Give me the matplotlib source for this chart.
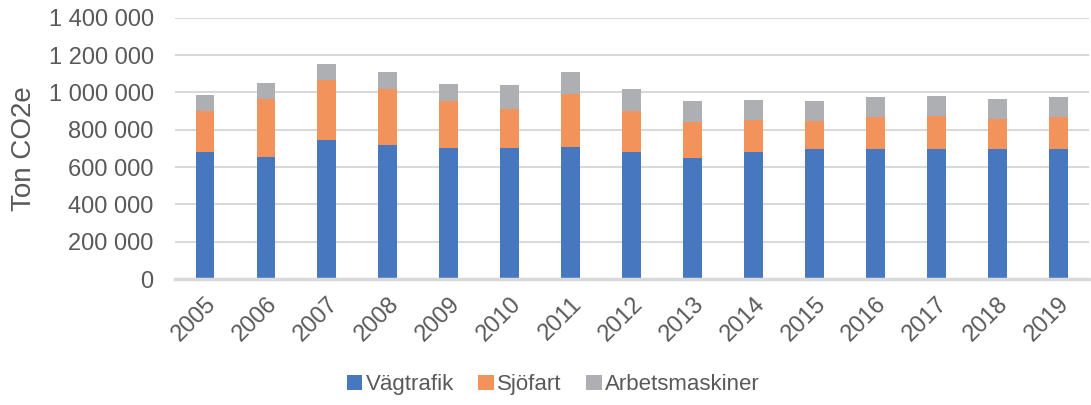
import matplotlib.pyplot as plt
import numpy as np

plt.rcParams['font.family'] = ['Liberation Sans', 'DejaVu Sans']

years = [str(y) for y in range(2005, 2020)]
vagtrafik = [682000, 656000, 745000, 720000, 702000, 704000, 708000, 682000,
             650000, 679000, 699000, 699000, 699000, 699000, 699000]
sjofart = [220000, 309000, 320000, 300000, 254000, 209000, 284000, 217000,
           190000, 173000, 150000, 169000, 176000, 159000, 169000]
arbetsmaskiner = [84000, 84000, 86000, 88000, 89000, 125000, 119000, 118000,
                  116000, 106000, 105000, 106000, 106000, 107000, 106000]

blue = '#4677BF'
orange = '#F3935C'
gray = '#AEAFB2'
text_color = '#595959'

fig = plt.figure(figsize=(10.91, 4.05), dpi=100)
ax = fig.add_axes([0.160, 0.311, 0.838, 0.645])

x = np.arange(len(years))
w = 0.31
v = np.array(vagtrafik)
s = np.array(sjofart)
a = np.array(arbetsmaskiner)
ax.bar(x, v, w, color=blue, label='Vägtrafik', zorder=3)
ax.bar(x, s, w, bottom=v, color=orange, label='Sjöfart', zorder=3)
ax.bar(x, a, w, bottom=v + s, color=gray, label='Arbetsmaskiner', zorder=3)

ax.set_xlim(-0.5, len(years) - 0.5)
ax.set_ylim(0, 1400000)
yticks = np.arange(0, 1400001, 200000)
ax.set_yticks(yticks)
ax.set_yticklabels([f'{t:,}'.replace(',', ' ') for t in yticks])
ax.set_xticks(x)
ax.set_xticklabels(years, rotation=45, ha='right', rotation_mode='anchor')

ax.grid(axis='y', color='#D9D9D9', linewidth=1.5, zorder=0)
for side in ['top', 'right', 'left']:
    ax.spines[side].set_visible(False)
ax.spines['bottom'].set_color('#D9D9D9')
ax.spines['bottom'].set_linewidth(2.5)
ax.spines['bottom'].set_zorder(4)
ax.tick_params(axis='both', length=0, labelsize=17, colors=text_color)
ax.tick_params(axis='y', pad=15)
ax.tick_params(axis='x', pad=10)

ax.set_ylabel('Ton CO2e', fontsize=20, color=text_color, labelpad=8)

fig.legend(loc='center', bbox_to_anchor=(0.507, 0.05), ncol=3, frameon=False,
           fontsize=16, labelcolor=text_color, handlelength=0.7, handleheight=0.7,
           handletextpad=0.15, columnspacing=1.1)

fig.savefig('out.png', dpi=100)
